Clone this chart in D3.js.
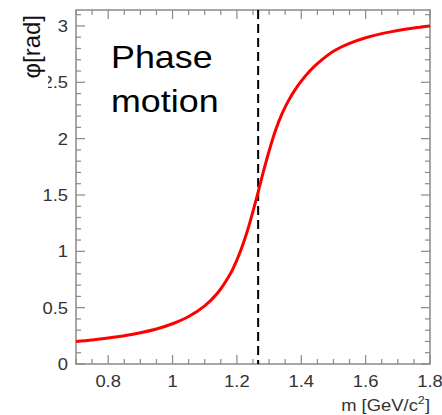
<!DOCTYPE html>
<html>
<head>
<meta charset="utf-8">
<script src="https://cdn.jsdelivr.net/npm/d3@7"></script>
<style>
  body { margin: 0; background: #fff; }
  svg { display: block; font-family: "Liberation Sans", Arial, sans-serif; }
</style>
</head>
<body>
<div id="chart"></div>
<script>
// phase of the resonance
const massValues = [0.70, 0.75, 0.80, 0.85, 0.90, 0.95, 1.00, 1.05, 1.10, 1.14, 1.18, 1.20, 1.22, 1.24, 1.26, 1.27,
  1.28, 1.30, 1.32, 1.34, 1.36, 1.38, 1.40, 1.425, 1.45, 1.50, 1.55, 1.60, 1.65, 1.70, 1.75, 1.80];
const phaseValues = [0.20, 0.214, 0.231, 0.251, 0.277, 0.311, 0.357, 0.421, 0.516, 0.630, 0.803, 0.923, 1.072, 1.253, 1.461, 1.571,
  1.682, 1.89, 2.075, 2.22, 2.335, 2.43, 2.51, 2.595, 2.665, 2.775, 2.845, 2.895, 2.932, 2.96, 2.982, 3.00];
const resonanceMass = 1.266;
const xTicks = [0.8, 1, 1.2, 1.4, 1.6, 1.8];
const yTicks = [0, 0.5, 1, 1.5, 2, 2.5, 3];

const W = 442, H = 415;
const margin = { top: 10, right: 12, bottom: 51, left: 76 };
const width = 430 - margin.left;
const height = 364 - margin.top;
const stretch = 1.15; // the reference text is a bit wide

const svg = d3.select('#chart').append('svg')
  .attr('width', W)
  .attr('height', H);

const g = svg.append('g')
  .attr('transform', `translate(${margin.left},${margin.top})`);

const x = d3.scaleLinear().domain([0.7, 1.8]).range([0, width]);
const y = d3.scaleLinear().domain([0, Math.PI]).range([height, 0]);

const axisColor = '#8a8a8a';
const labelColor = '#333';

// minor + major ticks, all pointing inward
const xMinor = d3.range(0.7, 1.8001, 0.05).map(v => +v.toFixed(2));
const yMinor = d3.range(0, 3.1001, 0.1).map(v => +v.toFixed(1));
const isMajor = (v, step) => Math.abs(v / step - Math.round(v / step)) < 1e-6;

g.append('g').selectAll('line')
  .data(xMinor)
  .join('line')
  .attr('x1', d => x(d)).attr('x2', d => x(d))
  .attr('y1', height).attr('y2', d => height - (isMajor(d, 0.2) ? 9 : 5))
  .attr('stroke', axisColor).attr('stroke-width', 1.2);

g.append('g').selectAll('line')
  .data(xMinor)
  .join('line')
  .attr('x1', d => x(d)).attr('x2', d => x(d))
  .attr('y1', 0).attr('y2', d => (isMajor(d, 0.2) ? 9 : 5))
  .attr('stroke', axisColor).attr('stroke-width', 1.2);

g.append('g').selectAll('line')
  .data(yMinor)
  .join('line')
  .attr('y1', d => y(d)).attr('y2', d => y(d))
  .attr('x1', 0).attr('x2', d => (isMajor(d, 0.5) ? 9 : 5))
  .attr('stroke', axisColor).attr('stroke-width', 1.2);

g.append('g').selectAll('line')
  .data(yMinor)
  .join('line')
  .attr('y1', d => y(d)).attr('y2', d => y(d))
  .attr('x1', width).attr('x2', d => width - (isMajor(d, 0.5) ? 9 : 5))
  .attr('stroke', axisColor).attr('stroke-width', 1.2);

g.append('rect')
  .attr('width', width).attr('height', height)
  .attr('fill', 'none')
  .attr('stroke', axisColor).attr('stroke-width', 1.5);

// tick labels
g.append('g').selectAll('text')
  .data(xTicks)
  .join('text')
  .attr('transform', d => `translate(${x(d)},${height + 23}) scale(${stretch},1)`)
  .attr('text-anchor', 'middle')
  .attr('font-size', 16)
  .attr('fill', labelColor)
  .text(d3.format('~g'));

g.append('g').selectAll('text')
  .data(yTicks)
  .join('text')
  .attr('transform', d => `translate(-8,${y(d) + 6}) scale(${stretch},1)`)
  .attr('text-anchor', 'end')
  .attr('font-size', 16)
  .attr('fill', labelColor)
  .text(d3.format('~g'));

// axis titles; the y title box hides part of the 2.5 label as in the original
const yTitle = svg.append('g')
  .attr('transform', 'translate(40,15) rotate(-90)');
yTitle.append('rect')
  .attr('x', -74).attr('y', -24)
  .attr('width', 74).attr('height', 32)
  .attr('fill', '#fff');
yTitle.append('text')
  .attr('text-anchor', 'end')
  .attr('font-size', 24)
  .attr('fill', '#111')
  .text('φ[rad]');

const xTitle = svg.append('text')
  .attr('transform', `translate(430,411) scale(${stretch},1)`)
  .attr('text-anchor', 'end')
  .attr('font-size', 16)
  .attr('fill', labelColor);
xTitle.append('tspan').text('m [GeV/c');
xTitle.append('tspan').attr('font-size', 11).attr('dy', -7).text('2');
xTitle.append('tspan').attr('dy', 7).text(']');

// resonance marker
g.append('line')
  .attr('x1', x(resonanceMass)).attr('x2', x(resonanceMass))
  .attr('y1', 0).attr('y2', height)
  .attr('stroke', '#000')
  .attr('stroke-width', 2)
  .attr('stroke-dasharray', '9,5');

const line = d3.line()
  .x((d, i) => x(massValues[i]))
  .y(d => y(d))
  .curve(d3.curveCatmullRom);

g.append('path')
  .datum(phaseValues)
  .attr('fill', 'none')
  .attr('stroke', '#ff0000')
  .attr('stroke-width', 3)
  .attr('d', line);

// annotation
const note = svg.append('text')
  .attr('transform', 'translate(111,0) scale(1.12,1)')
  .attr('font-size', 32)
  .attr('fill', '#000');
note.append('tspan').attr('x', 0).attr('y', 68).text('Phase');
note.append('tspan').attr('x', 0).attr('y', 112).text('motion');
</script>
</body>
</html>
